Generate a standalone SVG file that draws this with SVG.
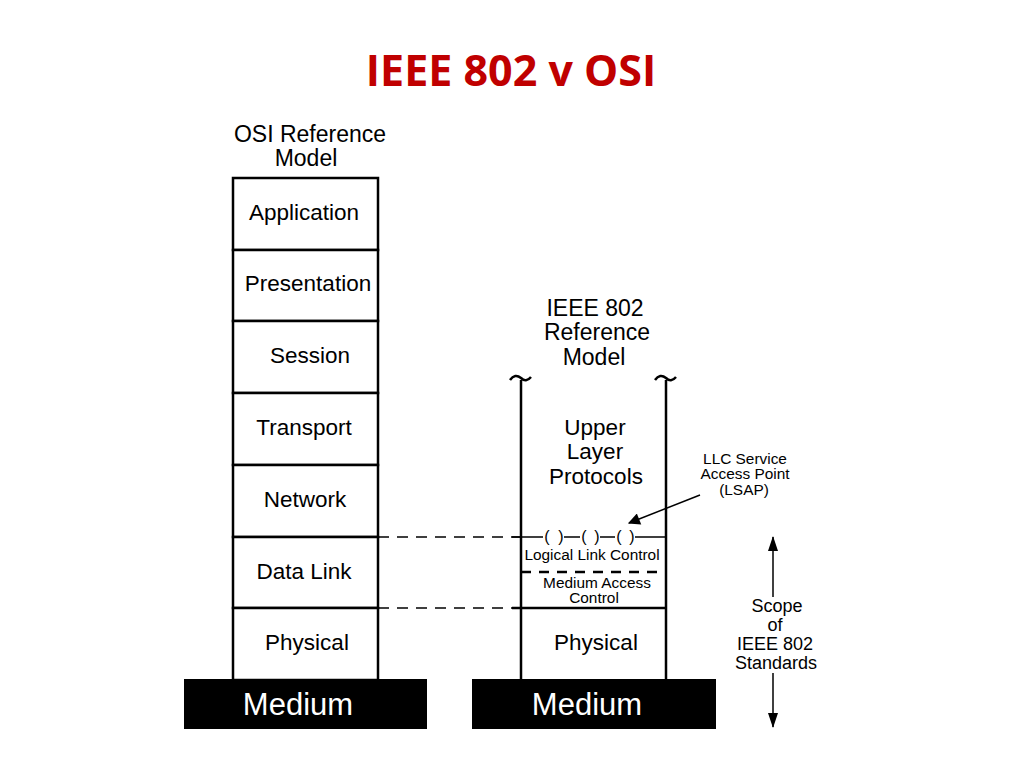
<svg xmlns="http://www.w3.org/2000/svg" width="1024" height="768" viewBox="0 0 1024 768">
<defs>
<style>
text{font-family:"Liberation Sans",Arial,sans-serif;fill:#000}
.lbl{font-size:22.5px;text-anchor:middle}
.hd{font-size:23px;text-anchor:middle}
.sm{font-size:15.4px;text-anchor:middle}
.sc{font-size:18px;text-anchor:middle}
.par{font-size:16px;text-anchor:middle}
.med{font-size:31px;fill:#fff;text-anchor:middle}
.box{fill:#fff;stroke:#000;stroke-width:2.5}
.ln{stroke:#000;stroke-width:2.5;fill:none}
.dash{stroke:#000;stroke-width:1.3;stroke-dasharray:11,8;fill:none}
.thin{stroke:#000;stroke-width:1.5;fill:none}
</style>
<marker id="ah" viewBox="0 0 15 10" refX="14" refY="5" markerWidth="15" markerHeight="10" markerUnits="userSpaceOnUse" orient="auto"><path d="M0,0 L15,5 L0,10 z" fill="#000"/></marker>
<marker id="ah2" viewBox="0 0 10 10" refX="9" refY="5" markerWidth="16" markerHeight="12" markerUnits="userSpaceOnUse" orient="auto"><path d="M0,0 L10,5 L0,10 z" fill="#000"/></marker>
</defs>
<rect width="1024" height="768" fill="#fff"/>
<text x="511" y="86" style="font-family:'Open Sans','Liberation Sans',sans-serif;font-weight:bold;font-size:43px;fill:#c00000;text-anchor:middle">IEEE 802 v OSI</text>

<g id="osi-title"><text class="hd" x="310" y="142">OSI Reference</text><text class="hd" x="306" y="166">Model</text></g>
<g id="osi-application"><rect class="box" x="233" y="178" width="145" height="72"/><text class="lbl" x="304" y="220">Application</text></g>
<g id="osi-presentation"><rect class="box" x="233" y="250" width="145" height="71"/><text class="lbl" x="308" y="291">Presentation</text></g>
<g id="osi-session"><rect class="box" x="233" y="321" width="145" height="72"/><text class="lbl" x="310" y="363">Session</text></g>
<g id="osi-transport"><rect class="box" x="233" y="393" width="145" height="72"/><text class="lbl" x="304" y="435">Transport</text></g>
<g id="osi-network"><rect class="box" x="233" y="465" width="145" height="72"/><text class="lbl" x="305" y="507">Network</text></g>
<g id="osi-datalink"><rect class="box" x="233" y="537" width="145" height="71"/><text class="lbl" x="304" y="579">Data Link</text></g>
<g id="osi-physical"><rect class="box" x="233" y="608" width="145" height="72"/><text class="lbl" x="307" y="650">Physical</text></g>
<g id="osi-medium"><rect x="184" y="679" width="243" height="50" fill="#000"/><text class="med" x="298" y="715">Medium</text></g>

<g id="ieee-title"><text class="hd" x="595" y="316">IEEE 802</text><text class="hd" x="597" y="340">Reference</text><text class="hd" x="594" y="365">Model</text></g>
<g id="ieee-stack">
<path class="ln" d="M510,380 q5,-7 11,-2 q5,5 10,-1"/>
<path class="ln" d="M655,380 q5,-7 11,-2 q5,5 10,-1"/>
<line class="ln" x1="521" y1="380" x2="521" y2="680"/>
<line class="ln" x1="666" y1="380" x2="666" y2="680"/>
</g>
<g id="ieee-upper"><text class="lbl" x="595" y="435">Upper</text><text class="lbl" x="595" y="459">Layer</text><text class="lbl" x="596" y="484">Protocols</text></g>
<g id="ieee-llc">
<path class="thin" d="M512,537 H543 M564,537 H580 M600,537 H615 M635,537 H666"/>
<text class="par" x="547" y="542">(</text><text class="par" x="561" y="542">)</text>
<text class="par" x="584" y="542">(</text><text class="par" x="597" y="542">)</text>
<text class="par" x="619" y="542">(</text><text class="par" x="632" y="542">)</text>
<text class="sm" x="592" y="560">Logical Link Control</text>
</g>
<g id="ieee-mac">
<line x1="521" y1="572" x2="666" y2="572" stroke="#000" stroke-width="2.5" stroke-dasharray="10,8"/>
<text class="sm" x="597" y="588">Medium Access</text><text class="sm" x="594" y="603">Control</text>
</g>
<g id="ieee-physical"><line class="ln" x1="512" y1="608" x2="666" y2="608"/><text class="lbl" x="596" y="650">Physical</text></g>
<g id="ieee-medium"><rect x="472" y="679" width="244" height="50" fill="#000"/><text class="med" x="587" y="715">Medium</text></g>

<g id="lsap-label"><text class="sm" x="745" y="464">LLC Service</text><text class="sm" x="745" y="479">Access Point</text><text class="sm" x="744" y="495">(LSAP)</text></g>
<g id="scope-label"><text class="sc" x="777" y="612">Scope</text><text class="sc" x="775" y="631">of</text><text class="sc" x="775" y="650">IEEE 802</text><text class="sc" x="776" y="669">Standards</text></g>

<g id="connectors">
<line class="dash" x1="378" y1="537" x2="521" y2="537"/>
<line class="dash" x1="378" y1="608" x2="521" y2="608"/>
<line class="thin" x1="700" y1="495" x2="629" y2="523" marker-end="url(#ah2)"/>
<line class="thin" x1="773" y1="597" x2="773" y2="537" marker-end="url(#ah)"/>
<line class="thin" x1="773" y1="673" x2="773" y2="727" marker-end="url(#ah)"/>
</g>
</svg>
